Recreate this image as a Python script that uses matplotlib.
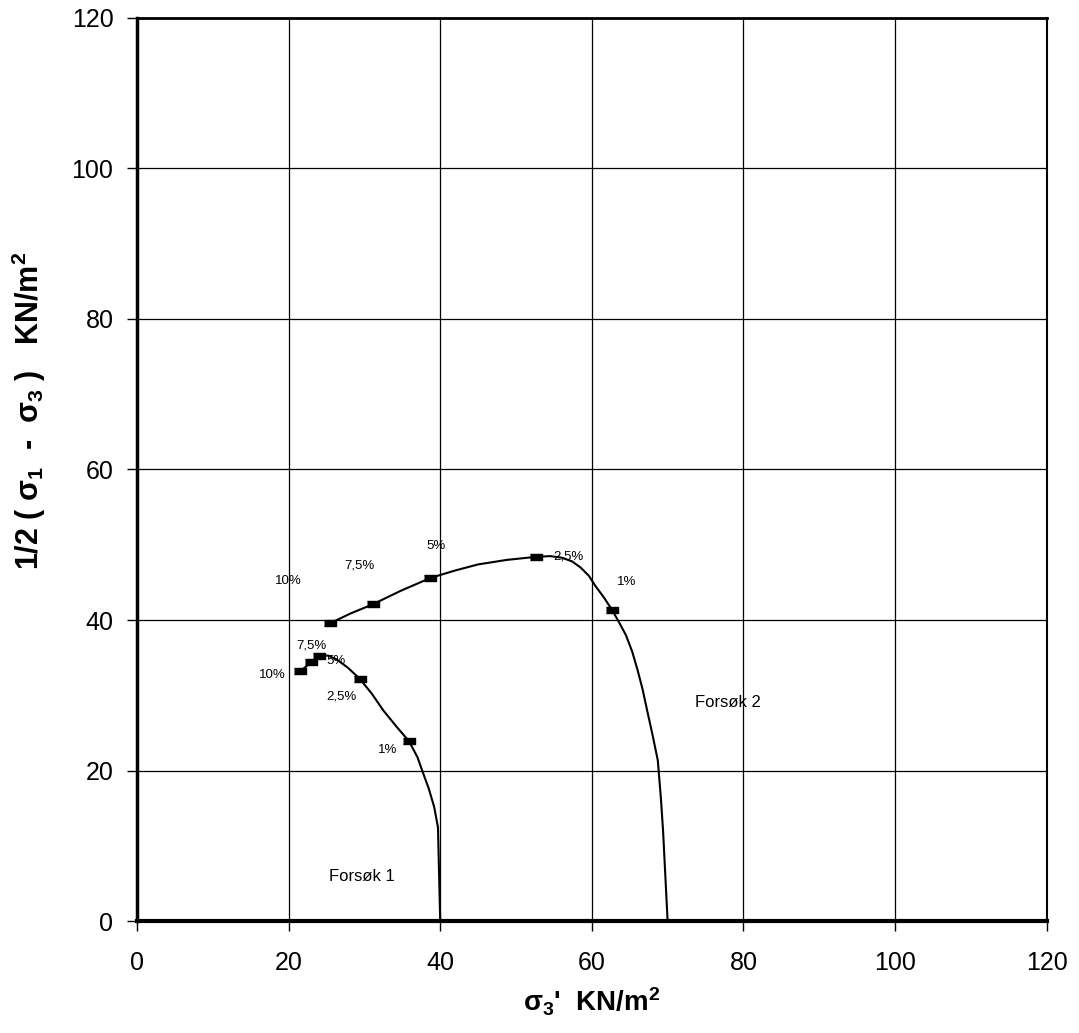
import matplotlib.pyplot as plt
import matplotlib as mpl

mpl.rcParams['font.family'] = ['Liberation Sans', 'DejaVu Sans']

# Forsøk 1 curve and its strain markers
f1_x = [21.5, 23.0, 24.0, 25.2, 26.3, 27.8, 29.4, 31.0, 32.5, 34.2, 35.9, 37.0, 37.7, 38.5, 39.2, 39.7, 40.0]
f1_y = [33.2, 34.4, 35.2, 35.3, 34.8, 33.7, 32.2, 30.2, 28.0, 25.9, 23.9, 21.8, 19.8, 17.6, 15.2, 12.5, 0.0]
f1_mx = [21.5, 23.0, 24.0, 29.4, 35.9]
f1_my = [33.2, 34.4, 35.2, 32.2, 23.9]
f1_labels = ['10%', '7,5%', '5%', '2,5%', '1%']
f1_lx = [17.9, 23.0, 26.2, 27.0, 33.1]
f1_ly = [32.7, 36.7, 34.6, 29.8, 22.7]

# Forsøk 2
f2_x = [25.5, 28.2, 31.1, 34.8, 38.7, 42.0, 45.0, 48.8, 52.6, 54.5, 56.0, 57.4, 58.5, 59.6, 60.5, 61.6,
        62.7, 63.6, 64.5, 65.3, 66.0, 66.7, 67.3, 68.0, 68.7, 69.1, 69.4, 69.7, 70.0]
f2_y = [39.6, 40.9, 42.1, 43.9, 45.6, 46.6, 47.4, 48.0, 48.4, 48.5, 48.3, 47.8, 47.0, 45.9, 44.5, 43.0,
        41.3, 39.7, 38.0, 35.9, 33.5, 30.8, 28.0, 24.8, 21.4, 16.5, 12.0, 6.0, 0.0]
f2_mx = [25.5, 31.1, 38.7, 52.6, 62.7]
f2_my = [39.6, 42.1, 45.6, 48.4, 41.3]
f2_labels = ['10%', '7,5%', '5%', '2,5%', '1%']
f2_lx = [19.9, 29.4, 39.4, 56.9, 64.6]
f2_ly = [45.2, 47.2, 49.8, 48.5, 45.0]

ticks = [0, 20, 40, 60, 80, 100, 120]

fig = plt.figure(figsize=(10.79, 10.33), dpi=100)
ax = fig.add_axes([0.127, 0.108, 0.843, 0.875])

ax.plot(f1_x, f1_y, color='black', lw=1.5)
ax.plot(f2_x, f2_y, color='black', lw=1.5)
for mx, my in [(f1_mx, f1_my), (f2_mx, f2_my)]:
    ax.scatter(mx, my, marker=[(-1, -0.45), (1, -0.45), (1, 0.45), (-1, 0.45)],
               s=80, color='black', zorder=3)

for lab, x, y in zip(f1_labels, f1_lx, f1_ly):
    ax.text(x, y, lab, fontsize=9.5, ha='center', va='center')
for lab, x, y in zip(f2_labels, f2_lx, f2_ly):
    ax.text(x, y, lab, fontsize=9.5, ha='center', va='center')

ax.text(29.7, 6, 'Forsøk 1', fontsize=12, ha='center', va='center')
ax.text(78, 29, 'Forsøk 2', fontsize=12, ha='center', va='center')

ax.set_xlim(0, 120)
ax.set_ylim(0, 120)
ax.set_xticks(ticks)
ax.set_yticks(ticks)
ax.grid(True, color='black', lw=0.9)
ax.tick_params(direction='out', length=7, width=1, labelsize=18)
ax.tick_params(axis='x', pad=14)
ax.tick_params(axis='y', pad=10)

ax.spines['left'].set_linewidth(2.5)
ax.spines['bottom'].set_linewidth(3)
ax.spines['top'].set_linewidth(2)
ax.spines['right'].set_linewidth(1.5)

ax.set_xlabel(r"$\mathregular{\sigma_3}$'  KN/m$\mathregular{^2}$", fontsize=20,
              fontweight='bold', labelpad=8)
ax.set_ylabel(r"1/2 ( $\mathregular{\sigma_1}$  -  $\mathregular{\sigma_3}$ )   KN/m$\mathregular{^2}$",
              fontsize=22, fontweight='bold')
ax.yaxis.set_label_coords(-0.098, 0.565)

fig.savefig('out.png', dpi=100)
